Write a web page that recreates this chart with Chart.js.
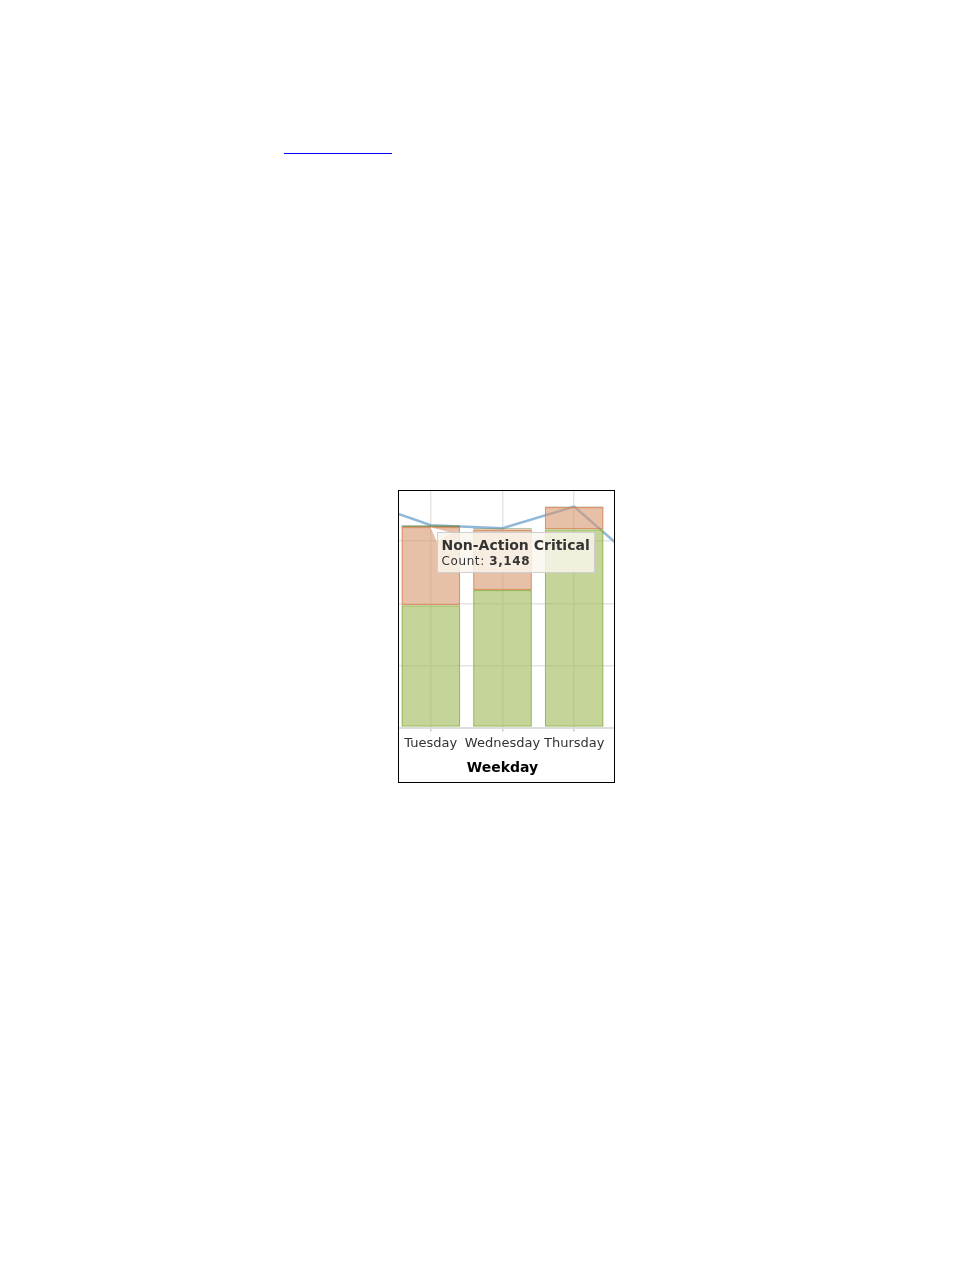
<!DOCTYPE html>
<html>
<head>
<meta charset="utf-8">
<script src="https://cdn.jsdelivr.net/npm/chart.js@4.4.1/dist/chart.umd.min.js"></script>
<style>
    body { margin: 0; background: #fff; font-family: "DejaVu Sans", sans-serif; }
    .link { position: absolute; left: 284px; top: 153px; width: 108px; height: 0;
            border-top: 1.5px solid rgb(0, 0, 255); }
    #box { position: absolute; left: 398px; top: 490px; width: 215px; height: 291px;
           border: 1px solid #000; overflow: hidden; background: #fff; }
    #wrap { position: absolute; left: -77px; top: -21px; width: 361px; height: 320px; }
    #tip { position: absolute; display: none; background: rgba(250, 246, 238, 0.82);
           border: 1px solid #cfcfcf; padding: 4px 4px 4px 4px; color: #333; white-space: nowrap; }
    #tip .t { font-weight: bold; font-size: 14px; line-height: 17px; }
    #tip .b { font-size: 12px; line-height: 14px; letter-spacing: 0.6px; }
    #wedge { position: absolute; display: none; width: 24px; height: 16px; background: #fff;
             clip-path: polygon(0 0, 22px 6px, 6px 14px); }
</style>
</head>
<body>
<div class="link"></div>
<div id="box">
    <div id="wrap"><canvas id="weekdayChart" width="361" height="320"></canvas></div>
</div>
<div id="wedge"></div>
<div id="tip"></div>
<script>
// Weekday counts (Monday and Friday bars are outside the visible crop)
const weekdays = ['Monday', 'Tuesday', 'Wednesday', 'Thursday', 'Friday'];
const nonCritical = [null, 4920, 5540, 7980, null];
const nonActionCritical = [null, 3148, 2430, 890, null];
const actionCritical = [null, 70, 50, 20, null];
const totalLine = [9150, 8138, 8020, 8890, 6370];
const yTicks = [0, 2500, 5000, 7500, 10000];

Chart.defaults.font.family = '"DejaVu Sans", sans-serif';
Chart.defaults.animation = false;

function renderTip(context) {
    const tooltip = context.tooltip;
    const tip = document.getElementById('tip');
    const wedge = document.getElementById('wedge');
    if (tooltip.opacity === 0 || !tooltip.dataPoints || !tooltip.dataPoints.length) {
        tip.style.display = 'none';
        wedge.style.display = 'none';
        return;
    }
    const point = tooltip.dataPoints[0];
    const value = point.raw.toLocaleString('en-US');
    tip.innerHTML = `<div class="t">${point.dataset.label}</div>` +
        `<div class="b">Count: <b>${value}</b></div>`;
    const rect = context.chart.canvas.getBoundingClientRect();
    const cx = rect.left + window.scrollX + tooltip.caretX;
    const cy = rect.top + window.scrollY + tooltip.caretY;
    tip.style.left = (cx + 6) + 'px';
    tip.style.top = (cy + 5) + 'px';
    tip.style.display = 'block';
    wedge.style.left = cx + 'px';
    wedge.style.top = cy + 'px';
    wedge.style.display = 'block';
}

const ctx = document.getElementById('weekdayChart').getContext('2d');
const weekdayChart = new Chart(ctx, {
    type: 'bar',
    data: {
        labels: weekdays,
        datasets: [
            {
                type: 'line',
                label: 'Total',
                data: totalLine,
                stack: 'total',
                borderColor: 'rgba(125, 172, 210, 0.85)',
                borderWidth: 2.5,
                pointRadius: 0,
                tension: 0,
                order: 10
            },
            {
                label: 'Non-Critical',
                data: nonCritical,
                stack: 'bars',
                backgroundColor: 'rgba(158, 183, 83, 0.6)',
                borderColor: 'rgba(145, 178, 75, 0.9)',
                borderWidth: 1.5,
                borderSkipped: false,
                order: 1
            },
            {
                label: 'Non-Action Critical',
                data: nonActionCritical,
                stack: 'bars',
                backgroundColor: 'rgba(215, 150, 110, 0.6)',
                borderColor: 'rgba(215, 135, 90, 0.9)',
                borderWidth: 1.5,
                borderSkipped: false,
                order: 1
            },
            {
                label: 'Action Critical',
                data: actionCritical,
                stack: 'bars',
                backgroundColor: 'rgba(110, 110, 80, 0.9)',
                borderColor: 'rgba(125, 140, 85, 0.9)',
                borderWidth: 1,
                borderSkipped: false,
                order: 1
            }
        ]
    },
    options: {
        responsive: false,
        maintainAspectRatio: false,
        layout: { padding: { top: 9, left: 0.5, right: 0.5, bottom: 9 } },
        datasets: { bar: { categoryPercentage: 1, barPercentage: 0.82 } },
        scales: {
            x: {
                stacked: true,
                grid: { offset: false, color: 'rgba(225, 225, 225, 0.9)', lineWidth: 1.5, tickLength: 4, tickColor: '#cccccc' },
                border: { color: '#dddddd', width: 2 },
                ticks: { color: '#333333', font: { size: 13 }, padding: 4,
                         maxRotation: 0, minRotation: 0, autoSkip: false },
                title: { display: true, text: 'Weekday', color: '#000000',
                         font: { size: 14, weight: 'bold' }, padding: { top: 5, bottom: 4 } }
            },
            y: {
                stacked: true,
                min: yTicks[0],
                max: yTicks[yTicks.length - 1],
                afterBuildTicks: axis => { axis.ticks = yTicks.map(v => ({ value: v })); },
                grid: { color: 'rgba(225, 225, 225, 0.9)', lineWidth: 1.5, drawTicks: false },
                border: { display: false },
                ticks: { display: false }
            }
        },
        plugins: {
            legend: { display: false },
            tooltip: { enabled: false, external: renderTip }
        }
    }
});

// show the hovered segment from the reference
weekdayChart.tooltip.setActiveElements([{ datasetIndex: 2, index: 1 }], { x: 0, y: 0 });
weekdayChart.update();
</script>
</body>
</html>
